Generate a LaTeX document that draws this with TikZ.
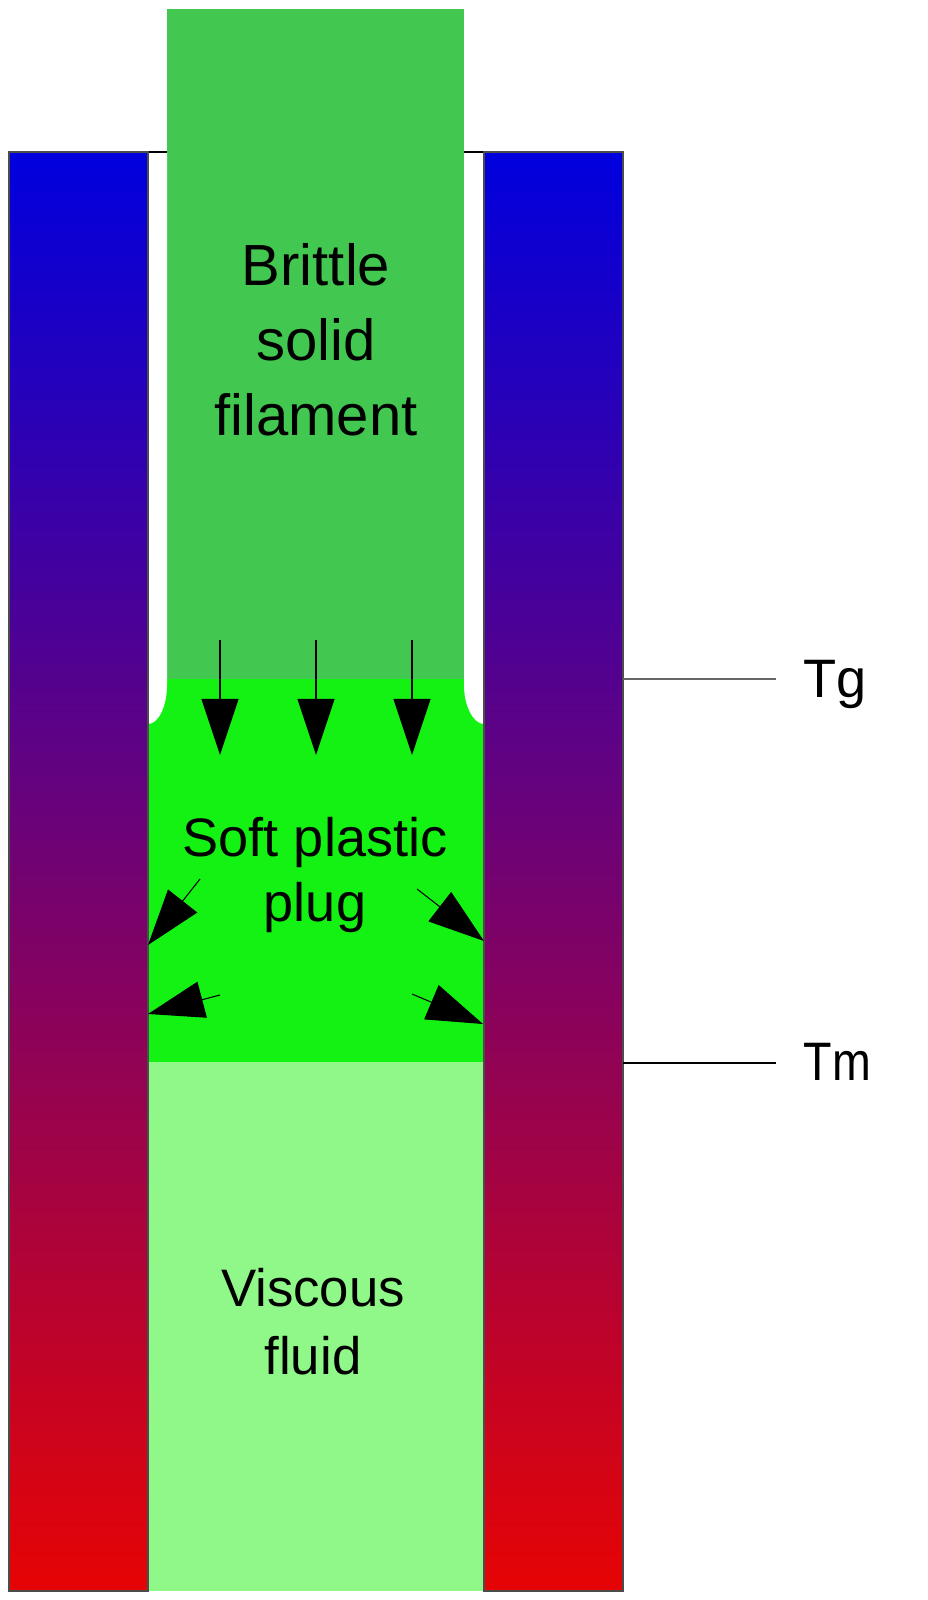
\documentclass[tikz,border=0pt]{standalone}
\usepackage{fontspec}
\setmainfont{Liberation Sans}
\usetikzlibrary{
    arrows.meta,
    positioning
}

\definecolor{wallblue}{RGB}{0,0,222}
\definecolor{wallred}{RGB}{230,4,4}
\definecolor{solidgreen}{RGB}{66,200,80}
\definecolor{pluggreen}{RGB}{20,242,20}
\definecolor{fluidgreen}{RGB}{144,248,136}

\begin{document}
\begin{tikzpicture}[
    x=0.01cm, y=-0.01cm,
    wall/.style={draw=black!70, line width=0.4pt, top color=wallblue, bottom color=wallred},
    zone/.style={align=center, inner sep=0pt, text=black},
    flow/.style={line width=0.3pt, -{Triangle[length=0.56cm, width=0.37cm]}},
    level/.style={line width=0.4pt},
    levellabel/.style={font=\fontsize{15.4}{18}\selectfont, anchor=base west, inner sep=0pt}
]
\useasboundingbox (0,0) rectangle (927,1600);

% Melt zones inside the nozzle
\fill[pluggreen] (148,679) rectangle (484,1062);
\fill[fluidgreen] (148,1062) rectangle (484,1591);
\fill[solidgreen] (167,9) rectangle (464,679);

% Gaps between filament and wall
\fill[white] (148,152) -- (167,152) -- (167,685)
    .. controls (167,707) and (158,724) .. (148,724) -- cycle;
\fill[white] (484,152) -- (464,152) -- (464,685)
    .. controls (464,707) and (474,724) .. (484,724) -- cycle;
\draw[line width=0.4pt] (148,152) -- (167,152);
\draw[line width=0.4pt] (464,152) -- (484,152);

% Heated walls
\draw[wall] (9,152) rectangle (148,1591);
\draw[wall] (484,152) rectangle (623,1591);

% Pressure from the solid filament
\foreach \x [count=\i] in {220,316,412} {
    \coordinate (push\i) at (\x,640);
    \coordinate (pushtip\i) at (\x,755);
    \draw[flow] (push\i) -- (pushtip\i);
}

% Plug pressing on the walls
\coordinate (ulstart) at (200,879);  \coordinate (ultip) at (148,945);
\coordinate (llstart) at (220,995);  \coordinate (lltip) at (148,1014);
\coordinate (urstart) at (417,889);  \coordinate (urtip) at (484,941);
\coordinate (lrstart) at (412,994);  \coordinate (lrtip) at (483,1024);
\draw[flow] (ulstart) -- (ultip);
\draw[flow] (llstart) -- (lltip);
\draw[flow] (urstart) -- (urtip);
\draw[flow] (lrstart) -- (lrtip);

% Zone labels
\node[zone, font=\fontsize{16.5}{21.3}\selectfont] (solidlabel) at (316,340) {Brittle\\solid\\filament};
\node[zone, font=\fontsize{15.4}{18.6}\selectfont] (pluglabel) at (315,875) {Soft plastic\\plug};
\node[zone, font=\fontsize{15}{19.3}\selectfont] (fluidlabel) at (313,1322) {Viscous\\fluid};

% Temperature levels
\coordinate (tg) at (623,679);
\coordinate (tgend) at (776,679);
\coordinate (tm) at (623,1063);
\coordinate (tmend) at (776,1063);
\draw[level, black!60] (tg) -- (tgend);
\draw[level, black] (tm) -- (tmend);
\node[levellabel] (tglabel) at (803,697) {Tg};
\node[levellabel, xscale=0.86, transform shape] (tmlabel) at (803,1080) {Tm};
\end{tikzpicture}
\end{document}
